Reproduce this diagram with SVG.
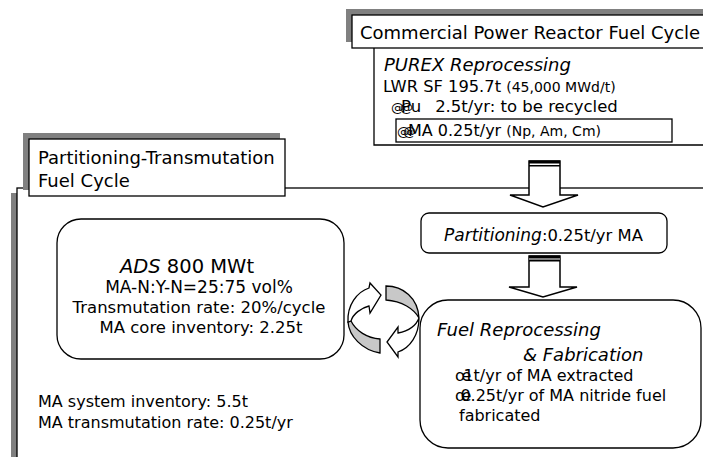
<svg xmlns="http://www.w3.org/2000/svg" width="703" height="457" viewBox="0 0 703 457">
<style>
text{font-family:"DejaVu Sans","Liberation Sans",sans-serif;fill:#000}
.it{font-style:italic}
.box{fill:#fff;stroke:#000;stroke-width:1.3}
.shadow{fill:#808080}
.ln{fill:none;stroke:#000;stroke-width:1.3}
.arr{fill:#fff;stroke:#000;stroke-width:1.5;stroke-linejoin:miter}
.band{fill:#c8c8c8;stroke:#000;stroke-width:1.3}
.fb{fill:#fff;stroke:#000;stroke-width:1.3}
</style>
<rect width="703" height="457" fill="#fff"/>

<!-- Partitioning-Transmutation section frame -->
<g id="pt-section">
  <rect class="shadow" x="11" y="193" width="6" height="264"/>
  <rect class="box" x="17" y="188" width="700" height="300"/>
  <rect class="shadow" x="23" y="133" width="257" height="57"/>
  <rect class="box" x="29" y="139" width="256" height="57"/>
  <text x="38" y="164" font-size="18">Partitioning-Transmutation</text>
  <text x="38" y="187" font-size="18">Fuel Cycle</text>
</g>

<!-- Commercial section -->
<g id="commercial">
  <path class="ln" d="M374,48 V145 H705"/>
  <rect class="shadow" x="346" y="9" width="360" height="33"/>
  <rect class="box" x="352" y="15" width="360" height="33"/>
  <text x="360" y="39" font-size="18">Commercial Power Reactor Fuel Cycle</text>
  <text x="384" y="71" font-size="18" class="it">PUREX Reprocessing</text>
  <text x="383" y="92" font-size="16.3">LWR SF 195.7t <tspan font-size="14">(45,000 MWd/t)</tspan></text>
  <text x="391" y="112" font-size="16.5"><tspan font-size="13">@</tspan><tspan dx="-4" font-size="13">@</tspan><tspan dx="-12">Pu</tspan><tspan dx="14">2.5t/yr: to be recycled</tspan></text>
  <rect class="box" x="396" y="119" width="276" height="23" fill="none"/>
  <text x="397" y="136" font-size="16"><tspan font-size="13">@</tspan><tspan dx="-7" font-size="13">@</tspan><tspan dx="-8">MA 0.25t/yr </tspan><tspan font-size="14">(Np, Am, Cm)</tspan></text>
</g>

<!-- Partitioning box -->
<g id="partitioning">
  <rect class="box" x="421" y="213" width="246" height="40" rx="8"/>
  <text x="444" y="241" font-size="17"><tspan class="it">Partitioning</tspan><tspan font-size="16.4">:0.25t/yr MA</tspan></text>
</g>

<!-- ADS box -->
<g id="ads">
  <rect class="box" x="57" y="219" width="287" height="140" rx="24"/>
  <text x="187" y="273" font-size="19.5" text-anchor="middle"><tspan class="it">ADS</tspan> 800 MWt</text>
  <text x="199" y="293" font-size="17" text-anchor="middle">MA-N:Y-N=25:75 vol%</text>
  <text x="199" y="313" font-size="16.5" text-anchor="middle">Transmutation rate: 20%/cycle</text>
  <text x="201" y="333" font-size="16.5" text-anchor="middle">MA core inventory: 2.25t</text>
</g>

<!-- Fuel reprocessing box -->
<g id="fuel">
  <rect class="box" x="420" y="300" width="281" height="148" rx="28"/>
  <text x="437" y="336" font-size="18" class="it">Fuel Reprocessing</text>
  <text x="523" y="361" font-size="18" class="it">&amp; Fabrication</text>
  <text x="455" y="381" font-size="16">œ<tspan dx="-8">1t/yr of MA extracted</tspan></text>
  <text x="455" y="401" font-size="16">œ<tspan dx="-11">0.25t/yr of MA nitride fuel</tspan></text>
  <text x="459" y="421" font-size="16">fabricated</text>
</g>

<!-- Summary text -->
<g id="summary">
  <text x="38" y="407" font-size="16">MA system inventory: 5.5t</text>
  <text x="38" y="428" font-size="16">MA transmutation rate: 0.25t/yr</text>
</g>

<!-- Connectors -->
<g id="connectors">
  <g id="arrow-1">
    <path class="arr" d="M529,161 L560,161 L560,195 L578,195 L543,207 L510,195 L529,195 Z"/>
    <rect x="529" y="160.5" width="31" height="3" fill="#000"/>
    <rect x="529" y="165" width="31" height="1.5" fill="#000"/>
  </g>
  <g id="arrow-2">
    <path class="arr" d="M529,256 L560,256 L560,287 L577,287 L543,297 L509,287 L529,287 Z"/>
    <rect x="529" y="255.5" width="31" height="2.5" fill="#000"/>
    <rect x="529" y="258" width="31" height="2" fill="#808080"/>
    <rect x="529" y="260" width="31" height="1.5" fill="#000"/>
  </g>
  <g id="cycle">
    <path class="band" d="M348,322 C349,336 362,350 380,353 L380,339 C367,338 356,331 351,321 Z"/>
    <path class="fb" d="M348,322 C347,305 357,292 369,288 L370,283 L381,295 L370,313 L369,306 C361,308 353,314 351,321 Z"/>
    <path class="band" d="M386,286 C403,286 418,298 419,318 C414,309 402,301 386,300 Z"/>
    <path class="fb" d="M419,318 C419,335 410,348 398,352 L398,357 L387,342 L398,327 L398,333 C408,331 416,326 419,318 Z"/>
  </g>
</g>
</svg>
